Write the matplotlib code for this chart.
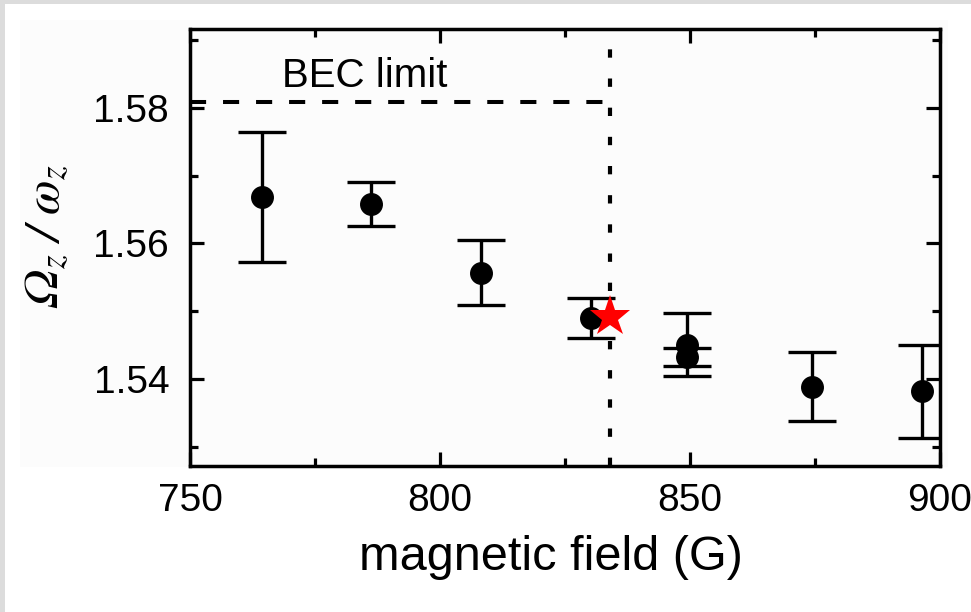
import matplotlib
matplotlib.use("Agg")
import matplotlib.pyplot as plt
from matplotlib.patches import Rectangle
from matplotlib.ticker import MultipleLocator

# Measured trap-frequency ratio versus magnetic field
field = [764.3, 786.1, 808.2, 830.2, 849.4, 849.4, 874.4, 896.4]
ratio = [1.5668, 1.5658, 1.5557, 1.5490, 1.5451, 1.5433, 1.5389, 1.5382]
ratio_err = [0.0096, 0.0033, 0.0048, 0.0030, 0.0046, 0.0013, 0.0051, 0.0068]

# Resonance position and BEC-limit value
resonance_field = 834.0
resonance_ratio = 1.5491
bec_limit = 1.5808

x_ticks = [750, 800, 850, 900]
y_ticks = [1.54, 1.56, 1.58]

plt.rcParams["font.family"] = ["Liberation Sans", "DejaVu Sans"]
plt.rcParams["mathtext.fontset"] = "custom"
plt.rcParams["mathtext.rm"] = "STIXGeneral"
plt.rcParams["mathtext.it"] = "STIXGeneral:italic"

W, H = 971, 612
fig = plt.figure(figsize=(W / 100, H / 100), dpi=100)
fig.patch.set_facecolor("white")

# light frame strips along the top and left edges, and the pale panel
fig.patches.append(Rectangle((0, 1 - 4 / H), 1, 4 / H, transform=fig.transFigure,
                             facecolor="#dcdcdc", edgecolor="none", zorder=-10))
fig.patches.append(Rectangle((0, 0), 5 / W, 1, transform=fig.transFigure,
                             facecolor="#dcdcdc", edgecolor="none", zorder=-10))
fig.patches.append(Rectangle((20 / W, 1 - 467 / H), (948 - 20) / W, (467 - 20) / H,
                             transform=fig.transFigure, facecolor="#fcfcfc",
                             edgecolor="none", zorder=-9))

ax = fig.add_axes([190 / W, 1 - 466 / H, (940 - 190) / W, (466 - 29) / H])
ax.set_facecolor("none")

ax.errorbar(field, ratio, yerr=ratio_err, fmt="o", color="black", ms=15.5,
            elinewidth=2.4, capsize=17.5, capthick=2.4, zorder=3)
ax.plot([resonance_field], [resonance_ratio], marker="*", color="red", ms=31,
        markeredgewidth=0, linestyle="none", zorder=4)

ax.plot([750, resonance_field], [bec_limit, bec_limit], color="black", lw=2.9,
        dashes=(4, 4.2), zorder=2)
ax.axvline(resonance_field, color="black", lw=3.0, dashes=(2.0, 5.0), zorder=2)

ax.text(785, 1.5847, "BEC limit", fontsize=29, ha="center", va="center")

ax.set_xlim(750, 900)
ax.set_ylim(1.5272, 1.5916)
ax.set_xticks(x_ticks)
ax.set_yticks(y_ticks)
ax.set_yticklabels([f"{v:.2f}" for v in y_ticks])
ax.xaxis.set_minor_locator(MultipleLocator(25))
ax.yaxis.set_minor_locator(MultipleLocator(0.01))

ax.tick_params(which="both", direction="in", top=True, right=True, width=2.3,
               labelsize=28)
ax.tick_params(which="major", length=10)
ax.tick_params(which="minor", length=6)
ax.tick_params(axis="y", which="major", pad=15)
ax.tick_params(axis="x", which="major", pad=12)
for s in ax.spines.values():
    s.set_linewidth(2.5)

ax.set_xlabel("magnetic field (G)", fontsize=35, labelpad=12)
ax.xaxis.label.set_x((551 - 190) / 750)

fig.text(47 / W, 1 - 236 / H, "Ω$_{z}$ / ω$_{z}$", family="STIXGeneral",
         style="italic", rotation=90, fontsize=36, ha="center", va="center")

fig.savefig("out.png", dpi=100)
